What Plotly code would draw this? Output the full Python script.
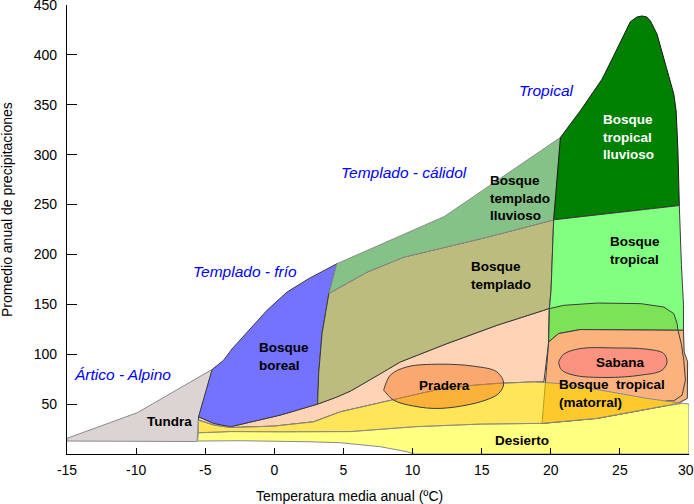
import plotly.graph_objects as go

# ---------------- axis ticks ----------------
x_tick_vals = [-15, -10, -5, 0, 5, 10, 15, 20, 25, 30]
x_tick_text = ["-15", "-10", "-5", "0", "5", "10", "15", "20", "25", "30"]
y_tick_vals = [50, 100, 150, 200, 250, 300, 350, 400, 450]
y_tick_text = ["50", "100", "150", "200", "250", "300", "350", "400", "450"]

# ---------------- biome outlines (temperature °C, precipitation) ----------------
desierto_t = [-5.55, -2.46, 2.37, 4.78, 7.67, 9.6, 10.1, 30, 30, 29.5, 27.9, 23.35, 19.4, 14.9, 10.1, 5.5, 0.43, -3.18, -5.5]
desierto_p = [13, 13.3, 12.3, 11.3, 7.3, 2.3, 0, 0, 50, 51, 47.3, 35.7, 30.7, 30, 27.3, 22.5, 22.3, 22.5, 21.3]

tundra_t = [-15, -15, -9.93, -4.5, -4.99, -5.48, -5.59]
tundra_p = [13, 15.7, 41.3, 84.7, 60.7, 37.3, 12.5]

matorral_templado_t = [-5.48, -4.39, -3.18, 0.43, 3.13, 4.5, 5.5, 7.5, 9.12, 12.5, 16.11, 19.49, 19.9, 19.85, 19.5,
                       18.76, 16.11, 12.5, 10.0, 7.91, 4.78, 2.85, 0.0, -3.18, -4.39, -5.48]
matorral_templado_p = [37.3, 30.7, 27.3, 39, 50, 57, 63, 79, 92.3, 110.7, 129, 144, 146, 112.3, 72.3,
                       72.3, 70.7, 66.7, 58.9, 52.3, 42.3, 32.3, 28, 26.5, 29, 34]

boreal_t = [-4.5, -3.67, -3.06, -1.86, -0.53, 0.92, 2.48, 4.53, 3.95, 3.45, 3.21, 3.13, 0.43, -3.18, -4.39, -5.48, -4.99]
boreal_p = [84.7, 94, 105.3, 124, 144, 162.3, 175.7, 190.7, 161, 120.7, 80.7, 50, 39, 27.3, 30.7, 37.3, 60.7]

templado_t = [3.13, 3.21, 3.45, 3.95, 6.71, 9.36, 15.39, 20.21, 20.02, 19.9, 19.49, 16.11, 12.5, 9.12, 7.5, 5.5, 4.5]
templado_p = [50, 80.7, 120.7, 161, 182.3, 197.3, 217.3, 234.7, 164, 146, 144, 129, 110.7, 92.3, 79, 63, 57]

templado_lluvioso_t = [3.95, 4.53, 12.3, 20.7, 20.21, 15.39, 9.36, 6.71]
templado_lluvioso_p = [161, 190.7, 238, 317.3, 234.7, 217.3, 197.3, 182.3]

tropical_lluvioso_t = [20.21, 20.7, 22.14, 23.71, 24.43, 25.28, 25.76, 26.24, 26.6, 26.95, 27.21, 27.69, 28.29, 28.9, 29.07, 29.2, 29.3]
tropical_lluvioso_p = [234.7, 317.3, 344, 375.7, 395.7, 420.7, 433.3, 438, 439, 438, 434, 420.7, 390.7, 360.7, 344, 304, 249]

tropical_t = [20.21, 29.3, 29.45, 29.6, 29.6, 22.14, 20.57, 19.85, 19.9, 20.02]
tropical_p = [234.7, 249, 190, 150, 124, 124.7, 120.7, 112.3, 146, 164]

franja_t = [19.9, 20.93, 23.35, 26.5, 28.18, 28.9, 29.14, 29.2, 22.14, 20.57, 19.85]
franja_p = [145.7, 149, 151.3, 150.7, 147.3, 140.7, 130.7, 124, 124.7, 120.7, 112.3]

matorral_tropical_t = [19.85, 20.57, 22.14, 29.6, 29.65, 29.9, 29.88, 29.27, 27.9, 23.35, 19.37]
matorral_tropical_p = [112.3, 120.7, 124.7, 124, 102.3, 92.3, 55.7, 51.3, 47.3, 35.7, 30.7]

borde_matorral_t = [29.2, 29.45, 29.62, 29.74, 29.5, 28.9, 28.3]
borde_matorral_p = [124, 110, 94, 74, 59, 53.3, 53.2]

desierto_calido_t = [-5.5, -4.39, -3.18, 0.0, 2.85, 4.78, 7.91, 10.0, 12.5, 16.11, 18.76, 20.6, 23.6, 26.97, 29.5,
                     27.9, 23.35, 19.4, 14.9, 10.1, 5.5, 0.43, -3.18, -5.5]
desierto_calido_p = [34, 29, 26.5, 28, 32.3, 42.3, 52.3, 58.9, 66.7, 70.7, 72.3, 70.7, 64, 55.7, 50.8,
                     47.3, 35.7, 30.7, 30, 27.3, 22.5, 22.3, 22.5, 21.3]

pradera_t = [7.91, 8.39, 9.6, 12.0, 14.42, 16.1, 16.59, 16.23, 14.9, 12.0, 10.1, 8.63, 7.91]
pradera_p = [64, 79, 87.3, 90, 88, 82.3, 70.7, 60.7, 52.3, 45.7, 48, 54, 64]

sabana_t = [20.57, 20.93, 22.14, 24.55, 26.97, 28.17, 28.41, 28.05, 26.5, 24.07, 21.67, 20.75, 20.57]
sabana_p = [92.3, 100, 105.7, 106.3, 105, 100.7, 92.3, 84, 79, 76.7, 79, 84.7, 92.3]

# ---------------- figure ----------------
FONT = "Liberation Sans, Arial, sans-serif"
DARK = "#3c3c3c"
GREY = "#8a8a8a"

fig = go.Figure()


def region(t, p, fill, line, width=1.0, shape="linear", closed=True):
    xs = list(t) + ([t[0]] if closed else [])
    ys = list(p) + ([p[0]] if closed else [])
    fig.add_trace(go.Scatter(
        x=xs, y=ys, mode="lines",
        fill="toself" if fill else "none",
        fillcolor=fill,
        line=dict(color=line, width=width, shape=shape),
        hoverinfo="skip", showlegend=False,
    ))


region(desierto_t, desierto_p, "rgb(255,255,128)", GREY)
region(tundra_t, tundra_p, "rgb(220,211,211)", GREY)
region(matorral_templado_t, matorral_templado_p, "rgb(255,211,181)", DARK)
region(boreal_t, boreal_p, "rgb(115,115,255)", DARK)
region(templado_t, templado_p, "rgb(188,188,126)", DARK)
region(templado_lluvioso_t, templado_lluvioso_p, "rgb(133,194,135)", GREY)
region(tropical_lluvioso_t, tropical_lluvioso_p, "rgb(0,128,0)", "#1a1a1a")
region(tropical_t, tropical_p, "rgb(128,255,128)", DARK)
region(franja_t, franja_p, "rgb(124,226,86)", DARK)
region(matorral_tropical_t, matorral_tropical_p, "rgb(252,178,125)", DARK)
region(borde_matorral_t, borde_matorral_p, None, DARK, closed=False)
region(desierto_calido_t, desierto_calido_p, "rgba(255,215,0,0.65)", GREY)
region(pradera_t, pradera_p, "rgba(244,114,21,0.44)", DARK, shape="spline")
region(sabana_t, sabana_p, "rgb(252,146,128)", DARK, shape="spline")

# ---------------- labels ----------------
bold = dict(family=FONT, size=13.5, color="black")
ital = dict(family=FONT, size=15.5, color="blue")
ann = []


def label(x, y, text, font, xanchor="center"):
    ann.append(dict(x=x, y=y, xref="x", yref="y", text=text, showarrow=False,
                    font=font, xanchor=xanchor, yanchor="middle", align="left"))


label(-7.6, 32.3, "<b>Tundra</b>", bold)
label(-1.25, 98, "<b>Bosque<br>boreal</b>", bold, "left")
label(14.1, 178.7, "<b>Bosque<br>templado</b>", bold, "left")
label(15.45, 256.7, "<b>Bosque<br>templado<br>lluvioso</b>", bold, "left")
label(23.65, 317.3, "<b>Bosque<br>tropical<br>lluvioso</b>", dict(family=FONT, size=13.5, color="white"), "left")
label(24.13, 203.5, "<b>Bosque<br>tropical</b>", bold, "left")
label(25.04, 91.7, "<b>Sabana</b>", bold)
label(20.42, 60.3, "<b>Bosque\u00a0 tropical<br>(matorral)</b>", bold, "left")
label(12.3, 69, "<b>Pradera</b>", bold)
label(17.92, 14, "<b>Desierto</b>", bold)

label(-11.0, 80, "<i>Ártico - Alpino</i>", ital)
label(-2.1, 183.3, "<i>Templado - frío</i>", ital)
label(9.38, 282.3, "<i>Templado - cálidol</i>", ital)
label(19.67, 364.7, "<i>Tropical</i>", ital)

# last x tick label drawn slightly inside the page, as in the reference
shown_x_text = x_tick_text[:-1] + [""]
ann.append(dict(x=x_tick_vals[-1], y=0, xref="x", yref="paper", xshift=-3, yshift=-16,
                text=x_tick_text[-1], showarrow=False,
                font=dict(family=FONT, size=14, color="black"), xanchor="center", yanchor="middle"))

# axis titles
ann.append(dict(x=(349.5 - 67) / 622, y=0, xref="paper", yref="paper", yshift=-42,
                text="Temperatura media anual (ºC)", showarrow=False,
                font=dict(family=FONT, size=14, color="black"), xanchor="center", yanchor="middle"))
ann.append(dict(x=0, y=(454 - 210) / 449, xref="paper", yref="paper", xshift=-60,
                text="Promedio anual de precipitaciones", showarrow=False, textangle=-90,
                font=dict(family=FONT, size=14, color="black"), xanchor="center", yanchor="middle"))

fig.update_layout(
    width=694, height=504,
    margin=dict(l=67, r=5, t=5, b=50, autoexpand=False),
    paper_bgcolor="white", plot_bgcolor="white",
    font=dict(family=FONT, size=14, color="black"),
    annotations=ann,
    showlegend=False,
    xaxis=dict(range=[-15, 30], tickvals=x_tick_vals, ticktext=shown_x_text,
               ticks="inside", ticklen=6, tickcolor="black", tickwidth=1,
               showline=True, linecolor="black", linewidth=1.3,
               showgrid=False, zeroline=False, ticklabelstandoff=3,
               automargin=False, ticklabeloverflow="allow",
               tickfont=dict(family=FONT, size=14, color="black")),
    yaxis=dict(range=[0, 450], tickvals=y_tick_vals, ticktext=y_tick_text,
               ticks="inside", ticklen=10, tickcolor="black", tickwidth=1,
               showline=True, linecolor="black", linewidth=1.3,
               showgrid=False, zeroline=False, ticklabelstandoff=6,
               automargin=False, ticklabeloverflow="allow",
               tickfont=dict(family=FONT, size=14, color="black")),
)

fig.write_html("out.html", config={"displayModeBar": False},
               post_script="document.body.style.margin='0px';document.body.style.padding='0px';")
